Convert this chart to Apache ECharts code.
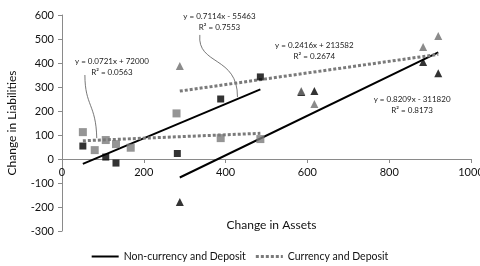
<!DOCTYPE html>
<html>
<head>
<meta charset="utf-8">
<script src="https://cdn.jsdelivr.net/npm/echarts@6/dist/echarts.min.js"></script>
<style>
html, body { margin: 0; padding: 0; background: #fff; }
#chart { width: 480px; height: 266px; }
</style>
</head>
<body>
<div id="chart"></div>
<script>
// points (x = change in assets, y = change in liabilities)
var nonCurSquares = [[51, 54], [107, 8], [132, -17], [282, 23], [388, 250], [485, 342]];
var curSquares = [[51, 112], [80, 37], [107, 79], [132, 62], [168, 47], [280, 190], [388, 87], [485, 83]];
var nonCurTriangles = [[288, -179], [585, 279], [617, 283], [883, 404], [920, 357]];
var curTriangles = [[288, 388], [585, 283], [617, 229], [883, 467], [920, 512]];

// trendline end points
var nonCurTrend1 = [[51, -20], [485, 290]];
var nonCurTrend2 = [[288, -77], [920, 444]];
var curTrend1 = [[51, 76], [485, 107]];
var curTrend2 = [[288, 283], [920, 436]];

var legendNames = ['Non-currency and Deposit', 'Currency and Deposit'];

// trendline equations, placed at data coords (centre of text)
var eqTexts = [
    'y = 0.0721x + 72000\nR² = 0.0563',
    'y = 0.7114x - 55463\nR² = 0.7553',
    'y = 0.2416x + 213582\nR² = 0.2674',
    'y = 0.8209x - 311820\nR² = 0.8173'
];
var eqPos = [[122, 383], [385, 573], [617, 450], [856, 227]];

var FONT = 'Lato';

var chart = echarts.init(document.getElementById('chart'));

function scatter(name, data, symbol, color, size) {
    return {
        name: name,
        type: 'scatter',
        data: data,
        symbol: symbol,
        symbolSize: size,
        itemStyle: { color: color },
        z: 3
    };
}

function trend(name, data, dotted) {
    return {
        name: name,
        type: 'line',
        data: data,
        symbol: 'none',
        silent: true,
        lineStyle: dotted ? { color: '#7a7a7a', width: 3, type: [3, 2] } : { color: '#000', width: 2 },
        itemStyle: { color: dotted ? '#7a7a7a' : '#000' },
        z: 2
    };
}

var option = {
    animation: false,
    textStyle: { fontFamily: FONT },
    grid: { left: 62, right: 9, top: 15, bottom: 35, containLabel: false, outerBoundsMode: 'none' },
    legend: {
        data: [
            { name: legendNames[0], icon: 'path://M0,0h27v2h-27z', itemStyle: { color: '#000' } },
            { name: legendNames[1], icon: 'path://M0,0h3v3h-3zM5,0h3v3h-3zM10,0h3v3h-3zM15,0h3v3h-3zM20,0h3v3h-3zM25,0h2v3h-2z', itemStyle: { color: '#7a7a7a' } }
        ],
        top: 246,
        left: 'center',
        itemWidth: 27,
        itemHeight: 3,
        itemGap: 10,
        textStyle: { fontFamily: FONT, fontSize: 10.5, color: '#111' }
    },
    xAxis: {
        type: 'value',
        min: 0,
        max: 1000,
        interval: 200,
        // axis sits on the zero line (600 above, 300 below -> 72px up from the grid bottom)
        offset: -72,
        name: 'Change in Assets',
        nameLocation: 'middle',
        nameGap: 60,
        nameTextStyle: { fontFamily: FONT, fontSize: 12, color: '#111', padding: [0, 0, 0, 10] },
        axisLine: { onZero: false, lineStyle: { color: '#8a8a8a' } },
        axisTick: { show: true, length: 4, lineStyle: { color: '#8a8a8a' } },
        axisLabel: { fontFamily: FONT, fontSize: 11, color: '#111', margin: 8, formatter: function (v) { return String(v); } },
        splitLine: { show: false }
    },
    yAxis: {
        type: 'value',
        min: -300,
        max: 600,
        interval: 100,
        name: 'Change in Liabilities',
        nameLocation: 'middle',
        nameGap: 44,
        nameTextStyle: { fontFamily: FONT, fontSize: 12, color: '#111' },
        axisLine: { show: true, lineStyle: { color: '#8a8a8a' } },
        axisTick: { show: true, length: 4, lineStyle: { color: '#8a8a8a' } },
        axisLabel: { fontFamily: FONT, fontSize: 11, color: '#111', margin: 8 },
        splitLine: { show: false }
    },
    series: [
        trend(legendNames[0], nonCurTrend1, false),
        trend(legendNames[0], nonCurTrend2, false),
        trend(legendNames[1], curTrend1, true),
        trend(legendNames[1], curTrend2, true),
        scatter('nc squares', nonCurSquares, 'rect', '#000', 7),
        scatter('c squares', curSquares, 'rect', '#7a7a7a', 8),
        scatter('nc triangles', nonCurTriangles, 'triangle', '#000', 8),
        scatter('c triangles', curTriangles, 'triangle', '#6e6e6e', 8)
    ]
};

chart.setOption(option);

// equation labels + curved leader lines, positioned through the axes
var graphics = [];
eqTexts.forEach(function (t, i) {
    var p = chart.convertToPixel({ gridIndex: 0 }, eqPos[i]);
    graphics.push({
        type: 'text',
        x: p[0],
        y: p[1],
        style: {
            text: t,
            fontFamily: FONT,
            fontSize: 8,
            fill: '#222',
            align: 'center',
            verticalAlign: 'middle',
            lineHeight: 11
        }
    });
});

// leader lines: [start, control1, control2, end] in data coords
var leaders = [
    [[56, 350], [56, 220], [83, 230], [85, 87]],
    [[337, 517], [330, 390], [430, 430], [429, 258]]
];
leaders.forEach(function (l) {
    var pts = l.map(function (d) { return chart.convertToPixel({ gridIndex: 0 }, d); });
    graphics.push({
        type: 'bezierCurve',
        shape: {
            x1: pts[0][0], y1: pts[0][1],
            cpx1: pts[1][0], cpy1: pts[1][1],
            cpx2: pts[2][0], cpy2: pts[2][1],
            x2: pts[3][0], y2: pts[3][1]
        },
        style: { stroke: '#555', lineWidth: 0.8, fill: null }
    });
});

chart.setOption({ graphic: graphics });
</script>
</body>
</html>
